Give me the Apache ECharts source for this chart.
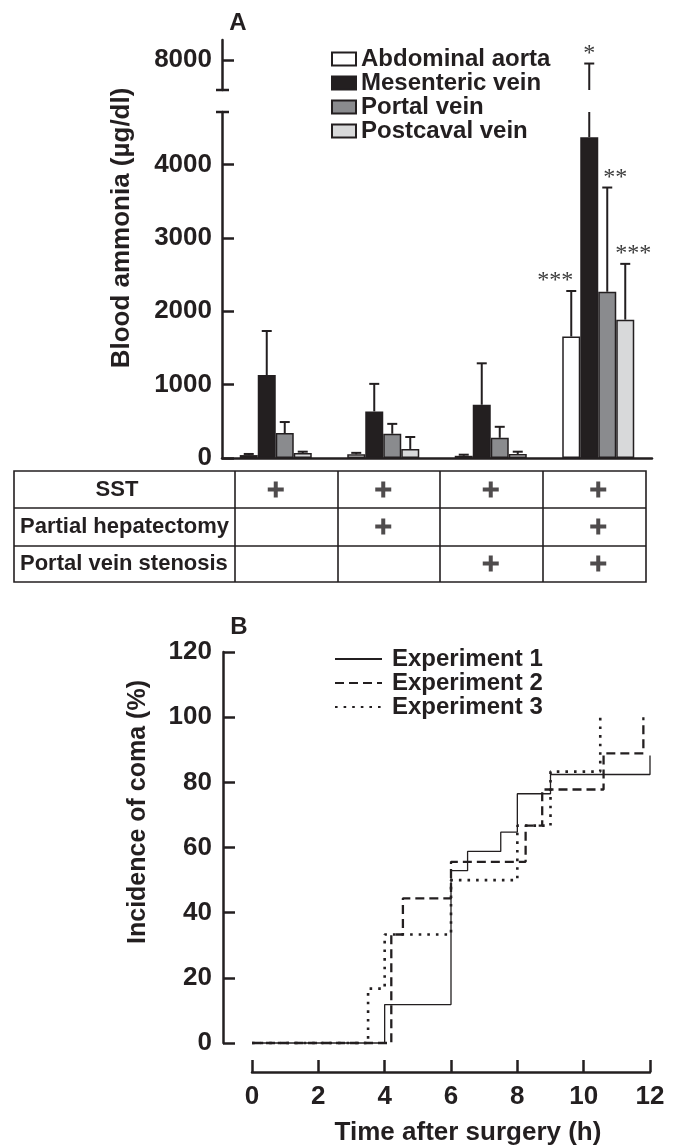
<!DOCTYPE html>
<html>
<head>
<meta charset="utf-8">
<script src="https://cdn.jsdelivr.net/npm/echarts@6/dist/echarts.min.js"></script>
<style>
  html, body { margin: 0; padding: 0; background: #fff; }
  #chart { width: 681px; height: 1148px; }
</style>
</head>
<body>
<div id="chart"></div>
<script>
// ---- panel A data ----
const groups = ['SST', 'SST+PH', 'SST+PVS', 'SST+PH+PVS'];
const aortaMean = [40, 50, 30, 1655];
const aortaErr = [55, 70, 45, 2275];
const mesentericMean = [1130, 635, 725, 4370];
const mesentericErr = [1730, 1010, 1290, 7950];
const portalMean = [340, 330, 275, 2265];
const portalErr = [490, 465, 425, 3685];
const postcavalMean = [68, 123, 55, 1885];
const postcavalErr = [86, 286, 86, 2645];
const aortaSig = ['', '', '', '***'];
const mesentericSig = ['', '', '', '*'];
const portalSig = ['', '', '', '**'];
const postcavalSig = ['', '', '', '***'];
const ammoniaTicksLow = [0, 1000, 2000, 3000, 4000];
const ammoniaTicksHigh = [8000];

// ---- table under panel A ----
const tableRows = ['SST', 'Partial hepatectomy', 'Portal vein stenosis'];
const tableMarks = [
  [1, 1, 1, 1],
  [0, 1, 0, 1],
  [0, 0, 1, 1],
];

// ---- panel B data (time h, incidence %) ----
const exp1Times = [0, 4, 6, 6.5, 7.5, 8, 9, 12];
const exp1Values = [0, 11.8, 52.9, 58.8, 64.7, 76.5, 82.4, 88.2];
const exp2Times = [0, 4.2, 4.55, 6, 8.25, 8.75, 10.6, 11.8];
const exp2Values = [0, 33.3, 44.4, 55.6, 66.7, 77.8, 88.9, 100];
const exp3Times = [0, 3.5, 4, 6, 8, 9, 10.5];
const exp3Values = [0, 16.7, 33.3, 50, 66.7, 83.3, 100];

const INK = '#231f20';
const FONT = '"Liberation Sans", Arial, sans-serif';
const BAR_W = 18;

const chart = echarts.init(document.getElementById('chart'));

const barDefs = [
  { name: 'Abdominal aorta', mean: aortaMean, err: aortaErr, sig: aortaSig, color: '#ffffff', sigDx: -16 },
  { name: 'Mesenteric vein', mean: mesentericMean, err: mesentericErr, sig: mesentericSig, color: INK, sigDx: 0 },
  { name: 'Portal vein', mean: portalMean, err: portalErr, sig: portalSig, color: '#8a8b8e', sigDx: 8 },
  { name: 'Postcaval vein', mean: postcavalMean, err: postcavalErr, sig: postcavalSig, color: '#d8d9da', sigDx: 8 },
];

// upward error bars (+ significance stars), clipped to the grid they sit in
function errorBars(def, idx, axisIdx) {
  return {
    type: 'custom',
    xAxisIndex: axisIdx,
    yAxisIndex: axisIdx,
    silent: true,
    z: 5,
    data: def.mean.map((m, i) => [i, m, def.err[i]]),
    renderItem: (params, api) => {
      const cs = params.coordSys;
      const base = api.coord([api.value(0), api.value(1)]);
      const top = api.coord([api.value(0), api.value(2)]);
      const x = base[0] + (idx - 1.5) * BAR_W;
      const y0 = Math.min(base[1], cs.y + cs.height);
      const y1 = Math.max(top[1], cs.y);
      const children = [];
      if (y1 < y0) {
        children.push({
          type: 'line',
          shape: { x1: x, y1: y0, x2: x, y2: y1 },
          style: { stroke: INK, lineWidth: 2 },
        });
      }
      if (top[1] >= cs.y - 0.5 && top[1] <= cs.y + cs.height) {
        children.push({
          type: 'line',
          shape: { x1: x - 5, y1: top[1], x2: x + 5, y2: top[1] },
          style: { stroke: INK, lineWidth: 2 },
        });
        const s = def.sig[params.dataIndex];
        if (s) {
          children.push({
            type: 'text',
            x: x + def.sigDx,
            y: top[1] - 10,
            style: {
              text: s,
              fill: '#3a3a3a',
              font: '24px "Liberation Serif", "Times New Roman", serif',
              align: 'center',
              verticalAlign: 'middle',
              textAlign: 'center',
              textVerticalAlign: 'middle',
            },
          });
        }
      }
      return { type: 'group', children };
    },
  };
}

const series = [];
barDefs.forEach((d) => {
  series.push({
    name: d.name,
    type: 'bar',
    xAxisIndex: 0,
    yAxisIndex: 0,
    barWidth: BAR_W,
    barGap: '0%',
    data: d.mean,
    itemStyle: { color: d.color, borderColor: INK, borderWidth: 1.5 },
  });
});
barDefs.forEach((d, i) => {
  series.push(errorBars(d, i, 0));
  series.push(errorBars(d, i, 1));
});

// table plus signs
const plusData = [];
tableMarks.forEach((row, r) => row.forEach((v, c) => { if (v) plusData.push([c, r]); }));
series.push({
  type: 'scatter',
  xAxisIndex: 2,
  yAxisIndex: 2,
  symbol: 'path://M6,0H10V6H16V10H10V16H6V10H0V6H6Z',
  symbolSize: 16,
  itemStyle: { color: INK },
  data: plusData,
});

// panel B step curves
const pairs = (t, v) => t.map((x, i) => [x, v[i]]);
const lineDefs = [
  { name: 'Experiment 1', data: pairs(exp1Times, exp1Values), lineStyle: { color: INK, width: 1.3, type: 'solid' } },
  { name: 'Experiment 2', data: pairs(exp2Times, exp2Values), lineStyle: { color: INK, width: 2.3, type: [9, 5] } },
  { name: 'Experiment 3', data: pairs(exp3Times, exp3Values), lineStyle: { color: INK, width: 2.6, type: [2.6, 6] } },
];
lineDefs.forEach((d) => {
  series.push({
    name: d.name,
    type: 'line',
    xAxisIndex: 3,
    yAxisIndex: 3,
    step: 'end',
    symbol: 'none',
    clip: false,
    data: d.data,
    lineStyle: d.lineStyle,
    itemStyle: { color: INK },
  });
});

const plain = (v) => String(v);
const tickLabel = { color: INK, fontFamily: FONT, fontWeight: 'bold', fontSize: 26, formatter: plain };
const axLine = { show: true, onZero: false, lineStyle: { color: INK, width: 2.5 } };
const axTick = { show: true, inside: true, length: 12, lineStyle: { color: INK, width: 2.5 } };

function gText(text, x, y, size, rot) {
  return {
    type: 'text', x, y, rotation: rot || 0, silent: true,
    style: {
      text, fill: INK, font: 'bold ' + size + 'px ' + FONT,
      align: 'center', verticalAlign: 'middle',
      textAlign: 'center', textVerticalAlign: 'middle',
    },
  };
}
function gLine(x1, y1, x2, y2, w) {
  return { type: 'line', silent: true, shape: { x1, y1, x2, y2 }, style: { stroke: INK, lineWidth: w } };
}

const option = {
  animation: false,
  backgroundColor: '#fff',
  grid: [
    { left: 222, right: 29, top: 112, bottom: 690 },
    { left: 222, right: 29, top: 40, height: 50 },
    { left: 222, right: 29, top: 471, height: 111 },
    { left: 252, right: 31, top: 652, bottom: 105 },
  ],
  xAxis: [
    { gridIndex: 0, type: 'category', data: groups, axisLine: axLine, axisTick: { show: false }, axisLabel: { show: false } },
    { gridIndex: 1, type: 'category', data: groups, show: false },
    { gridIndex: 2, type: 'category', data: groups, show: false },
    {
      gridIndex: 3, type: 'value', min: 0, max: 12, interval: 2, offset: 29,
      axisLine: axLine, axisTick: axTick, splitLine: { show: false },
      axisLabel: Object.assign({}, tickLabel, { margin: 12 }),
    },
  ],
  yAxis: [
    {
      gridIndex: 0, type: 'value', min: 0, max: 4714,
      axisLine: axLine,
      axisTick: Object.assign({ customValues: ammoniaTicksLow }, axTick),
      axisLabel: Object.assign({}, tickLabel, { margin: 10, customValues: ammoniaTicksLow }),
      splitLine: { show: false },
    },
    {
      gridIndex: 1, type: 'value', min: 7590, max: 8270,
      axisLine: axLine,
      axisTick: Object.assign({ customValues: ammoniaTicksHigh }, axTick),
      axisLabel: Object.assign({}, tickLabel, { margin: 10, customValues: ammoniaTicksHigh }),
      splitLine: { show: false },
    },
    {
      gridIndex: 2, type: 'category', data: tableRows, inverse: true,
      axisLine: { show: false }, axisTick: { show: false }, splitLine: { show: false },
      axisLabel: {
        margin: 202, align: 'left',
        formatter: (v, i) => (i === 0 ? '{c|' + v + '}' : '{l|' + v + '}'),
        rich: {
          c: { width: 194, align: 'center', color: INK, fontFamily: FONT, fontWeight: 'bold', fontSize: 22 },
          l: { color: INK, fontFamily: FONT, fontWeight: 'bold', fontSize: 22 },
        },
      },
    },
    {
      gridIndex: 3, type: 'value', min: 0, max: 120, interval: 20, offset: 29,
      axisLine: axLine, axisTick: axTick, splitLine: { show: false },
      axisLabel: Object.assign({}, tickLabel, { margin: 11 }),
    },
  ],
  legend: [
    {
      orient: 'vertical', left: 326, top: 42, itemGap: 0,
      itemWidth: 24, itemHeight: 13, icon: 'rect',
      data: barDefs.map((d) => d.name),
      textStyle: { color: INK, fontFamily: FONT, fontWeight: 'bold', fontSize: 24, lineHeight: 21.3 },
      selectedMode: false,
    },
    {
      orient: 'vertical', left: 329, top: 642, itemGap: 0,
      itemWidth: 47, itemHeight: 14,
      data: lineDefs.map((d) => d.name),
      itemStyle: { color: 'rgba(0,0,0,0)', borderWidth: 0, opacity: 0 },
      textStyle: { color: INK, fontFamily: FONT, fontWeight: 'bold', fontSize: 24, lineHeight: 22.5, padding: [0, 0, 0, 5] },
      selectedMode: false,
    },
  ],
  graphic: [
    gText('A', 238, 23, 24),
    gText('B', 239, 627, 24),
    gText('Blood ammonia (\u00b5g/dl)', 122, 228, 26, Math.PI / 2),
    gText('Incidence of coma (%)', 138, 812, 25, Math.PI / 2),
    gText('Time after surgery (h)', 468, 1133, 26),
    // axis break caps
    gLine(216, 90, 229, 90, 2.5),
    gLine(216, 112, 229, 112, 2.5),
    // table frame
    { type: 'rect', silent: true, shape: { x: 14, y: 471, width: 632, height: 111 }, style: { fill: 'none', stroke: INK, lineWidth: 1.6 } },
    gLine(14, 508, 646, 508, 1.6),
    gLine(14, 546, 646, 546, 1.6),
    gLine(235, 471, 235, 582, 1.6),
    gLine(338, 471, 338, 582, 1.6),
    gLine(440, 471, 440, 582, 1.6),
    gLine(543, 471, 543, 582, 1.6),
  ],
  series,
};

chart.setOption(option);
</script>
</body>
</html>
